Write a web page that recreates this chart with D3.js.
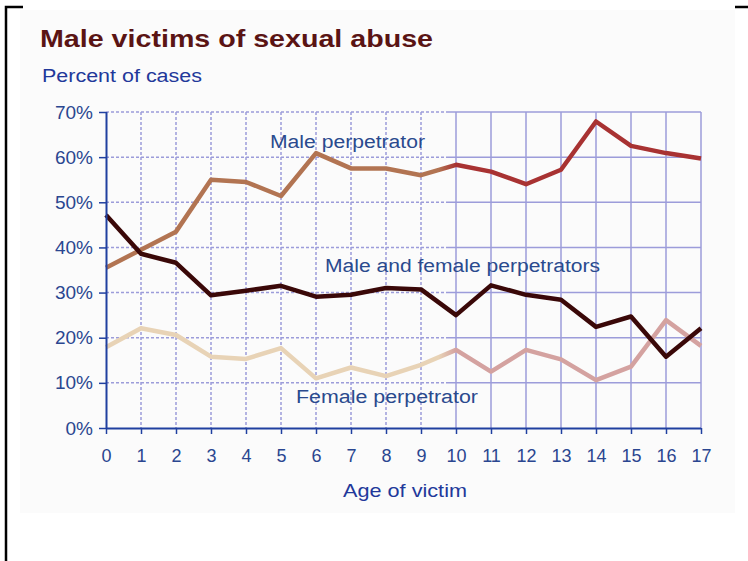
<!DOCTYPE html>
<html>
<head>
<meta charset="utf-8">
<script src="https://cdn.jsdelivr.net/npm/d3@7"></script>
<style>
  html, body { margin: 0; padding: 0; background: #ffffff; }
  svg { display: block; }
  text { font-family: "Liberation Sans", Arial, sans-serif; }
</style>
</head>
<body>
<svg id="chart" width="748" height="561"></svg>
<script>
// ---- data ----
const ages = [0,1,2,3,4,5,6,7,8,9,10,11,12,13,14,15,16,17];
const malePerp = [35.5,39.5,43.5,55,54.5,51.4,60.9,57.5,57.5,56,58.3,56.8,54,57.2,67.9,62.5,60.9,59.7];
const bothPerp = [47.2,38.6,36.6,29.4,30.4,31.5,29.1,29.5,31,30.7,25,31.6,29.5,28.4,22.4,24.7,15.8,22.1];
const femalePerp = [17.9,22.1,20.6,15.8,15.3,17.7,11,13.4,11.5,14,17.3,12.5,17.3,15.2,10.6,13.6,23.9,18.2];
const yTicks = [0,10,20,30,40,50,60,70];
const seriesLabels = ["Male perpetrator", "Male and female perpetrators", "Female perpetrator"];

const svg = d3.select("#chart");

// frame / background
svg.append("rect").attr("x", 20).attr("y", 10).attr("width", 715).attr("height", 503).attr("fill", "#fbfbfb");
svg.append("path").attr("d", "M6,561 V7 H23").attr("fill", "none").attr("stroke", "#000").attr("stroke-width", 2.5);
svg.append("path").attr("d", "M735,7 H748").attr("fill", "none").attr("stroke", "#000").attr("stroke-width", 2.5);

const x = d3.scaleLinear().domain([0, 17]).range([106, 701]);
const y = d3.scaleLinear().domain([0, 70]).range([428, 112]);
const split = x(9.8);

// title
svg.append("text").attr("x", 40).attr("y", 47).text("Male victims of sexual abuse")
  .attr("font-size", 24).attr("font-weight", "bold").attr("fill", "#5a1414")
  .attr("textLength", 393).attr("lengthAdjust", "spacingAndGlyphs");
svg.append("text").attr("x", 42).attr("y", 82).text("Percent of cases")
  .attr("font-size", 18).attr("fill", "#22389a")
  .attr("textLength", 160).attr("lengthAdjust", "spacingAndGlyphs");

// grid
const grid = svg.append("g");
const gridColor = "#9c9cda";
yTicks.filter(d => d > 0).forEach(v => {
  grid.append("line").attr("x1", x(0)).attr("x2", split).attr("y1", y(v)).attr("y2", y(v))
    .attr("stroke", gridColor).attr("stroke-width", 1.5).attr("stroke-dasharray", "3,2");
  grid.append("line").attr("x1", split).attr("x2", x(17)).attr("y1", y(v)).attr("y2", y(v))
    .attr("stroke", gridColor).attr("stroke-width", 1.5);
});
ages.filter(a => a > 0).forEach(a => {
  const l = grid.append("line").attr("x1", x(a)).attr("x2", x(a)).attr("y1", y(70)).attr("y2", y(0))
    .attr("stroke", gridColor).attr("stroke-width", 1.5);
  if (a < 10) l.attr("stroke-dasharray", "3,2");
});

// gradients
const defs = svg.append("defs");
function grad(id, c1, c2) {
  const g = defs.append("linearGradient").attr("id", id).attr("gradientUnits", "userSpaceOnUse")
    .attr("x1", x(0)).attr("x2", x(17)).attr("y1", 0).attr("y2", 0);
  const f1 = (x(9.5) - x(0)) / (x(17) - x(0));
  const f2 = (x(10) - x(0)) / (x(17) - x(0));
  g.append("stop").attr("offset", 0).attr("stop-color", c1);
  g.append("stop").attr("offset", f1).attr("stop-color", c1);
  g.append("stop").attr("offset", f2).attr("stop-color", c2);
  g.append("stop").attr("offset", 1).attr("stop-color", c2);
}
grad("gMale", "#b27452", "#a83232");
grad("gFemale", "#e8d3b6", "#d4a2a0");

const line = d3.line().x((d, i) => x(ages[i])).y(d => y(d));
svg.append("path").datum(femalePerp).attr("d", line).attr("fill", "none")
  .attr("stroke", "url(#gFemale)").attr("stroke-width", 4.5).attr("stroke-linejoin", "round");
svg.append("path").datum(malePerp).attr("d", line).attr("fill", "none")
  .attr("stroke", "url(#gMale)").attr("stroke-width", 4.5).attr("stroke-linejoin", "round");
svg.append("path").datum(bothPerp).attr("d", line).attr("fill", "none")
  .attr("stroke", "#3a0808").attr("stroke-width", 4.5).attr("stroke-linejoin", "round");

// axes
const axisColor = "#2040a0";
const yAxis = svg.append("g").attr("transform", `translate(${x(0)},0)`)
  .call(d3.axisLeft(y).tickValues(yTicks).tickFormat(d => d + "%").tickSize(7).tickPadding(6));
const xAxis = svg.append("g").attr("transform", `translate(0,${y(0)})`)
  .call(d3.axisBottom(x).tickValues(ages).tickFormat(d => d).tickSize(6).tickPadding(15));
[yAxis, xAxis].forEach(g => {
  g.select(".domain").attr("stroke", axisColor).attr("stroke-width", 2);
  g.selectAll(".tick line").attr("stroke", axisColor).attr("stroke-width", 1.5);
  g.selectAll(".tick text").attr("fill", "#2a4690")
    .attr("font-family", "'Liberation Sans', Arial, sans-serif");
});
yAxis.selectAll(".tick text").attr("font-size", 19);
xAxis.selectAll(".tick text").attr("font-size", 18);
xAxis.select(".domain").attr("d", `M${x(0)},0.5H${x(17)}`);
yAxis.select(".domain").attr("d", `M0.5,${y(70)}V${y(0)}`);

// annotations
const annColor = "#2a4a8e";
svg.append("text").attr("x", 270).attr("y", 148).text(seriesLabels[0])
  .attr("font-size", 18).attr("fill", annColor).attr("textLength", 155).attr("lengthAdjust", "spacingAndGlyphs");
svg.append("text").attr("x", 325).attr("y", 272).text(seriesLabels[1])
  .attr("font-size", 18).attr("fill", annColor).attr("textLength", 275).attr("lengthAdjust", "spacingAndGlyphs");
svg.append("text").attr("x", 296).attr("y", 403).text(seriesLabels[2])
  .attr("font-size", 18).attr("fill", annColor).attr("textLength", 182).attr("lengthAdjust", "spacingAndGlyphs");

// x axis title
svg.append("text").attr("x", 343).attr("y", 497).text("Age of victim")
  .attr("font-size", 19).attr("fill", "#22389a")
  .attr("textLength", 124).attr("lengthAdjust", "spacingAndGlyphs");
</script>
</body>
</html>
